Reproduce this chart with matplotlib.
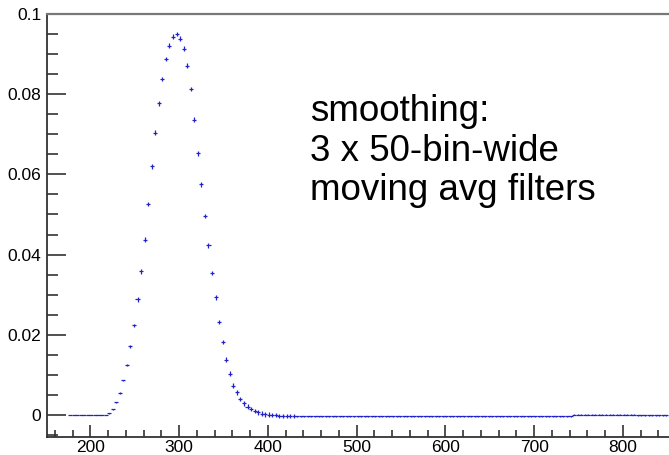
import numpy as np
import matplotlib.pyplot as plt
from matplotlib.ticker import MultipleLocator, FuncFormatter

plt.rcParams['font.family'] = ['Liberation Sans', 'DejaVu Sans']

# histogram: 4-unit wide bins, centres 177 ... 849
bin_width = 4
x_first, x_last = 177, 849

lead = [0.0] * 11  # 177 .. 217
peak = [0.0004, 0.0014, 0.0032, 0.0054, 0.0086, 0.0124, 0.0171, 0.0224,
        0.0288, 0.0358, 0.0437, 0.0526, 0.0620, 0.0704, 0.0777, 0.0838,
        0.0888, 0.0921, 0.0943, 0.0950, 0.0938, 0.0913, 0.0871, 0.0813,
        0.0736, 0.0653, 0.0575, 0.0496, 0.0423, 0.0354, 0.0293, 0.0232,
        0.0182, 0.0138, 0.0103, 0.0073, 0.0056, 0.0040, 0.0029, 0.0021,
        0.0015, 0.0010, 0.0007, 0.0003, 0.0002, 0.0001]  # 221 .. 401
tail_a = [0.0000, -0.0001] + [-0.0002] * 4 + [-0.0003] * 79  # 405 .. 741
tail_b = [0.0001] * 18  # 745 .. 813
tail_c = [-0.0001] * 9  # 817 .. 849

# half-height of the vertical error bars
err_lead = [0.0] * 11
err_peak = [0.0001, 0.0001, 0.00015, 0.0002, 0.0002, 0.0003, 0.0003,
            0.0004] + [0.0006] * 38
err_tail = [0.0005] * 7 + [0.0001] * 78 + [0.0001] * 27

values = np.array(lead + peak + tail_a + tail_b + tail_c)
errors = np.array(err_lead + err_peak + err_tail)
centres = np.arange(x_first, x_last + 1, bin_width)

fig = plt.figure(figsize=(6.69, 4.55), dpi=100)
ax = fig.add_axes([47 / 669, 18 / 455, 1 - 47 / 669, (437 - 14) / 455])

ax.errorbar(centres, values, xerr=bin_width / 2 + 0.3, yerr=errors, fmt='none',
            ecolor='#2222cc', elinewidth=0.9, capsize=0)

ax.set_xlim(151, 852)
ax.set_ylim(-0.0055, 0.1)
ax.xaxis.set_major_locator(MultipleLocator(100))
ax.xaxis.set_minor_locator(MultipleLocator(20))
ax.yaxis.set_major_locator(MultipleLocator(0.02))
ax.yaxis.set_minor_locator(MultipleLocator(0.005))
ax.yaxis.set_major_formatter(FuncFormatter(lambda v, p: '%g' % round(v, 3)))

ax.tick_params(axis='y', which='major', direction='in', length=14, width=1.2,
               labelsize=12.5, pad=4, color='#333333')
ax.tick_params(axis='y', which='minor', direction='in', length=8, width=1.2,
               color='#333333')
ax.tick_params(axis='x', which='major', direction='in', length=8.5, width=1.2,
               labelsize=12.5, pad=2.5, color='#333333')
ax.tick_params(axis='x', which='minor', direction='in', length=5, width=1.2,
               color='#333333')

ax.spines['right'].set_visible(False)
ax.spines['top'].set_color('#777777')
ax.spines['top'].set_linewidth(1.6)
for side in ('left', 'bottom'):
    ax.spines[side].set_color('#333333')
    ax.spines[side].set_linewidth(1.3)

fig.text(310 / 669, 1 - 94 / 455,
         'smoothing:\n3 x 50-bin-wide\nmoving avg filters',
         fontsize=26.5, va='top', ha='left', linespacing=1.17)

fig.savefig('out.png', dpi=100)
